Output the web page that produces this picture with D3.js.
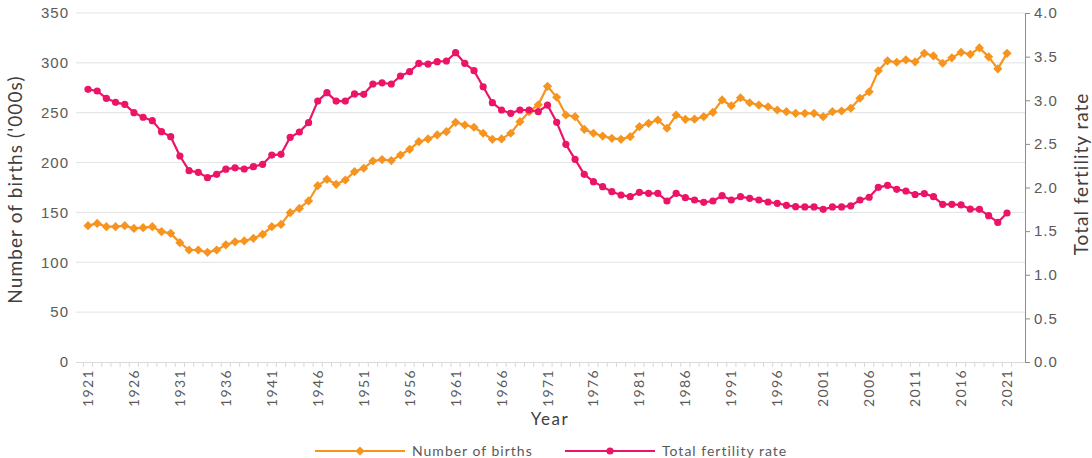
<!DOCTYPE html>
<html>
<head>
<meta charset="utf-8">
<script src="https://cdn.jsdelivr.net/npm/d3@7"></script>
<style>
  html, body { margin: 0; padding: 0; background: #fff; }
  svg { display: block; font-family: Lato, "Open Sans", sans-serif; }
</style>
</head>
<body>
<div id="chart"></div>
<script>
// ---- data ----------------------------------------------------------------
const years = d3.range(1921, 2022);

// Number of births ('000s), 1921..2021
const births = [
  136.7, 139, 135.7, 135.7, 136.7, 134, 134.7, 135.7, 130.7, 129,
  119.7, 112.3, 112.3, 110, 112.3, 117.5, 120.5, 121.4, 124, 128,
  135.7, 138, 149.8, 154, 161.5, 176.8, 183.2, 178.2, 182.5, 190.9,
  194.3, 201.6, 203, 202, 207.6, 213.3, 221, 223.7, 227.7, 231,
  240.4, 237.7, 235.4, 229.4, 223.3, 223.7, 229.4, 241, 251, 258,
  276.5, 265.5, 247.7, 246, 233.3, 229.4, 226.6, 224.3, 223.3, 226,
  236, 239.4, 242.7, 234.4, 247.7, 243.4, 243.5, 246, 250.4, 262.8,
  257, 265, 260, 257.7, 256, 252.7, 251, 249.4, 249.4, 249.4,
  246, 251, 251.7, 254.6, 264.5, 271, 292, 302, 300.6, 303,
  301, 309.6, 307, 299.6, 305, 310.6, 308.6, 315, 306, 294,
  309.6
];

// Total fertility rate, 1921..2021
const tfr = [
  3.125, 3.106, 3.022, 2.976, 2.953, 2.858, 2.805, 2.766, 2.64, 2.582,
  2.361, 2.193, 2.174, 2.113, 2.151, 2.21, 2.225, 2.212, 2.239, 2.266,
  2.372, 2.38, 2.575, 2.636, 2.743, 2.99, 3.087, 2.99, 2.99, 3.072,
  3.068, 3.186, 3.2, 3.186, 3.278, 3.327, 3.423, 3.415, 3.442, 3.45,
  3.545, 3.423, 3.339, 3.155, 2.972, 2.888, 2.85, 2.888, 2.888, 2.869,
  2.945, 2.747, 2.495, 2.323, 2.151, 2.067, 2.01, 1.952, 1.914, 1.895,
  1.945, 1.933, 1.933, 1.845, 1.933, 1.883, 1.857, 1.83, 1.845, 1.906,
  1.857, 1.895, 1.876, 1.857, 1.834, 1.819, 1.796, 1.78, 1.777, 1.777,
  1.75, 1.777, 1.777, 1.79, 1.857, 1.888, 2.002, 2.025, 1.979, 1.96,
  1.92, 1.93, 1.895, 1.807, 1.807, 1.80, 1.753, 1.75, 1.677, 1.60,
  1.708
];

const yearTicks = d3.range(1921, 2022, 5);
const birthTicks = [0, 50, 100, 150, 200, 250, 300, 350];
const tfrTicks = [0, 0.5, 1, 1.5, 2, 2.5, 3, 3.5, 4];

// ---- layout --------------------------------------------------------------
const W = 1092, H = 458;
const plot = { left: 76, right: 1025, top: 13, bottom: 362 };
const C_BIRTHS = '#F7941E';
const C_TFR = '#EB1467';
const TXT = '#5a5a5a';

const x = d3.scaleLinear().domain([1921, 2021]).range([88, 1007]);
const yL = d3.scaleLinear().domain([0, 350]).range([plot.bottom, plot.top]);
const yR = d3.scaleLinear().domain([0, 4]).range([plot.bottom, plot.top]);

const svg = d3.select('#chart').append('svg')
  .attr('width', W).attr('height', H);

// grid
svg.append('g')
  .selectAll('line')
  .data(birthTicks.filter(d => d > 0))
  .join('line')
  .attr('x1', plot.left).attr('x2', plot.right)
  .attr('y1', d => yL(d)).attr('y2', d => yL(d))
  .attr('stroke', '#e3e3e3').attr('stroke-width', 1);

// left axis (labels only)
const gL = svg.append('g').attr('transform', `translate(${plot.left},0)`)
  .call(d3.axisLeft(yL).tickValues(birthTicks).tickSize(0).tickPadding(7));
gL.select('.domain').remove();
gL.selectAll('text').attr('fill', TXT)
  .style('font-size', '15px').style('letter-spacing', '1px');

// right axis
const gR = svg.append('g').attr('transform', `translate(${plot.right},0)`)
  .call(d3.axisRight(yR).tickValues(tfrTicks).tickSize(5).tickPadding(4)
    .tickFormat(d3.format('.1f')));
gR.select('.domain').attr('stroke', '#8c8c8c');
gR.selectAll('.tick line').attr('stroke', '#8c8c8c');
gR.selectAll('text').attr('fill', TXT)
  .style('font-size', '15px').style('letter-spacing', '1px');

// x axis: line, small ticks between categories, rotated labels
const gX = svg.append('g');
gX.append('line')
  .attr('x1', plot.left).attr('x2', plot.right)
  .attr('y1', plot.bottom + 0.5).attr('y2', plot.bottom + 0.5)
  .attr('stroke', '#d9d9d9');
gX.selectAll('.xt')
  .data(years.concat([2022]))
  .join('line')
  .attr('class', 'xt')
  .attr('x1', d => x(d - 0.5)).attr('x2', d => x(d - 0.5))
  .attr('y1', plot.bottom).attr('y2', plot.bottom + 5)
  .attr('stroke', '#d9d9d9');
gX.selectAll('.xl')
  .data(yearTicks)
  .join('text')
  .attr('class', 'xl')
  .attr('transform', d => `translate(${x(d) + 5},${plot.bottom + 7}) rotate(-90)`)
  .attr('text-anchor', 'end')
  .attr('fill', TXT)
  .style('font-size', '14px').style('letter-spacing', '1.4px')
  .text(d => d);

// axis titles
svg.append('text')
  .attr('transform', `translate(22,${(plot.top + plot.bottom) / 2 + 2}) rotate(-90)`)
  .attr('text-anchor', 'middle')
  .attr('fill', '#404040').style('font-size', '19px').style('letter-spacing', '1.1px')
  .text("Number of births ('000s)");

svg.append('text')
  .attr('transform', 'translate(1088,174) rotate(-90)')
  .attr('text-anchor', 'middle')
  .attr('fill', '#404040').style('font-size', '19px').style('letter-spacing', '1px')
  .text('Total fertility rate');

svg.append('text')
  .attr('x', 550).attr('y', 425)
  .attr('text-anchor', 'middle')
  .attr('fill', '#404040').style('font-size', '17px').style('letter-spacing', '1.5px')
  .text('Year');

// ---- series --------------------------------------------------------------
const diamond = s => `M0,${-s}L${s},0L0,${s}L${-s},0Z`;

const birthLine = d3.line().x((d, i) => x(years[i])).y(d => yL(d));
const tfrLine = d3.line().x((d, i) => x(years[i])).y(d => yR(d));

svg.append('path').datum(births)
  .attr('d', birthLine).attr('fill', 'none')
  .attr('stroke', C_BIRTHS).attr('stroke-width', 2.2)
  .attr('stroke-linejoin', 'round');
svg.append('g').selectAll('path')
  .data(births)
  .join('path')
  .attr('d', diamond(4.6))
  .attr('transform', (d, i) => `translate(${x(years[i])},${yL(d)})`)
  .attr('fill', C_BIRTHS);

svg.append('path').datum(tfr)
  .attr('d', tfrLine).attr('fill', 'none')
  .attr('stroke', C_TFR).attr('stroke-width', 2.2)
  .attr('stroke-linejoin', 'round');
svg.append('g').selectAll('circle')
  .data(tfr)
  .join('circle')
  .attr('cx', (d, i) => x(years[i]))
  .attr('cy', d => yR(d))
  .attr('r', 3.6)
  .attr('fill', C_TFR);

// ---- legend --------------------------------------------------------------
const legendItems = [
  { label: 'Number of births', color: C_BIRTHS, shape: 'diamond', x0: 315 },
  { label: 'Total fertility rate', color: C_TFR, shape: 'circle', x0: 565 }
];
const lg = svg.append('g');
legendItems.forEach(item => {
  const ly = 451;
  lg.append('line')
    .attr('x1', item.x0).attr('x2', item.x0 + 90)
    .attr('y1', ly).attr('y2', ly)
    .attr('stroke', item.color).attr('stroke-width', 2.2);
  if (item.shape === 'diamond') {
    lg.append('path').attr('d', diamond(4.6))
      .attr('transform', `translate(${item.x0 + 45},${ly})`)
      .attr('fill', item.color);
  } else {
    lg.append('circle').attr('cx', item.x0 + 45).attr('cy', ly)
      .attr('r', 3.6).attr('fill', item.color);
  }
  lg.append('text')
    .attr('x', item.x0 + 97).attr('y', ly + 5)
    .attr('fill', TXT).style('font-size', '14px').style('letter-spacing', '1px')
    .text(item.label);
});
</script>
</body>
</html>
